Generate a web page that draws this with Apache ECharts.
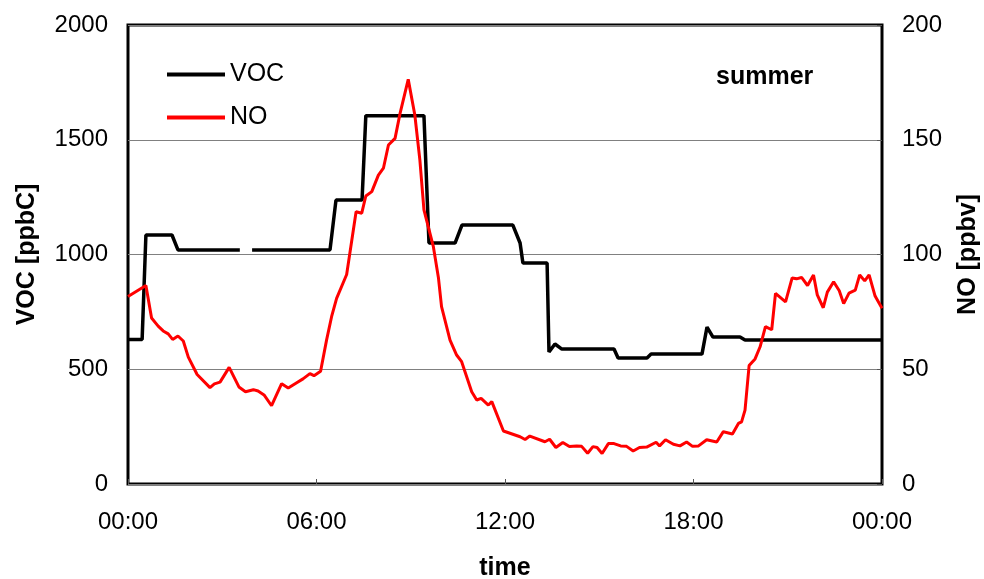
<!DOCTYPE html>
<html>
<head>
<meta charset="utf-8">
<script src="https://cdn.jsdelivr.net/npm/echarts@6/dist/echarts.min.js"></script>
<style>
html,body{margin:0;padding:0;background:#fff;overflow:hidden;width:100%;height:100%;}
#chart{width:984px;height:579px;}
</style>
</head>
<body>
<div id="chart"></div>
<script>
// x-axis tick labels (hours 0,6,12,18,24)
var timeLabels = ['00:00', '06:00', '12:00', '18:00', '00:00'];

// VOC [ppbC] (left axis) — hour of day, value (null = gap in record)
var vocHours = [0, 0.45, 0.57, 1.40, 1.59, 3.56, 3.75, 3.95, 6.43, 6.62, 7.45, 7.57, 9.42, 9.58, 10.41, 10.63, 12.25, 12.48, 12.57, 13.34, 13.40, 13.59, 13.81, 15.47, 15.60, 16.52, 16.65, 18.27, 18.43, 18.62, 19.48, 19.64, 24];
var vocValues = [630, 630, 1085, 1085, 1020, 1020, null, 1020, 1020, 1237, 1237, 1605, 1605, 1050, 1050, 1128, 1128, 1050, 963, 963, 575, 610, 588, 588, 549, 549, 566, 566, 684, 640, 640, 627, 627];

// NO [ppbv] (right axis)
var noHours = [0, 0.57, 0.75, 0.96, 1.12, 1.28, 1.42, 1.59, 1.76, 1.92,
  2.20, 2.61, 2.75, 2.93, 3.22, 3.53, 3.74, 3.99, 4.14, 4.33,
  4.57, 4.89, 5.10, 5.37, 5.57, 5.79, 5.92, 6.13, 6.32, 6.48,
  6.64, 6.96, 7.26, 7.44, 7.57, 7.76, 7.97, 8.13, 8.29, 8.50,
  8.66, 8.92, 9.13, 9.29, 9.42, 9.72, 9.88, 9.98, 10.25, 10.46,
  10.62, 10.94, 11.10, 11.24, 11.47, 11.58, 11.95, 12.48, 12.64, 12.79,
  13.27, 13.42, 13.62, 13.84, 14.05, 14.28, 14.44, 14.63, 14.80, 14.93,
  15.09, 15.29, 15.47, 15.68, 15.87, 16.08, 16.28, 16.51, 16.81, 16.92,
  17.11, 17.36, 17.57, 17.78, 17.97, 18.16, 18.42, 18.74, 18.95, 19.24,
  19.43, 19.53, 19.64, 19.77, 19.96, 20.12, 20.29, 20.49, 20.61, 20.93,
  21.14, 21.28, 21.44, 21.63, 21.82, 21.94, 22.13, 22.26, 22.46, 22.64,
  22.78, 22.95, 23.15, 23.29, 23.45, 23.59, 23.78, 24];
var noValues = [81.7, 86.5, 72.3, 68.8, 66.7, 65.4, 63.0, 64.5, 62.3, 55.3,
  47.7, 42.0, 43.6, 44.4, 50.8, 42.3, 40.2, 41.1, 40.5, 38.8,
  34.1, 43.7, 41.8, 44.1, 45.8, 48.1, 47.2, 49.1, 62.7, 72.9,
  80.9, 91.3, 118.6, 118.0, 125.5, 127.4, 134.6, 137.6, 147.7, 150.6,
  161.5, 176.3, 160.8, 141.2, 119.4, 103.4, 90.0, 77.3, 62.7, 56.2,
  53.3, 40.2, 36.6, 37.3, 34.4, 35.9, 23.1, 20.6, 19.4, 20.9,
  18.4, 19.5, 15.9, 18.1, 16.3, 16.6, 16.4, 13.4, 16.3, 15.9,
  13.3, 17.6, 17.6, 16.6, 16.4, 14.4, 15.9, 16.1, 18.2, 16.6,
  19.3, 17.3, 16.6, 18.3, 16.4, 16.6, 19.3, 18.3, 22.8, 21.8,
  26.4, 27.1, 32.2, 51.6, 54.5, 59.8, 68.6, 67.2, 83.1, 79.4,
  89.8, 89.4, 90.0, 86.5, 91.1, 82.4, 76.8, 83.6, 88.1, 84.2,
  78.6, 83.2, 84.5, 91.1, 88.5, 91.1, 81.9, 76.6];

function pairs(xs, ys) {
  return xs.map(function (x, i) { return [x, ys[i] === null ? '-' : ys[i]]; });
}

var FONT = '"Liberation Sans", Arial, sans-serif';
var chart = echarts.init(document.getElementById('chart'), null, {renderer: 'canvas', width: 984, height: 579});
chart.setOption({
  animation: false,
  backgroundColor: '#ffffff',
  textStyle: {fontFamily: FONT, color: '#000'},
  title: {
    text: 'summer', left: 716, top: 65, padding: 0,
    textStyle: {fontFamily: FONT, fontSize: 25, fontWeight: 'bold', color: '#000'}
  },
  legend: {
    orient: 'vertical', left: 167, top: 62, padding: 0,
    itemWidth: 58, itemHeight: 4, itemGap: 18,
    icon: 'rect',
    textStyle: {fontFamily: FONT, fontSize: 25, color: '#000'},
    data: ['VOC', 'NO']
  },
  grid: {
    left: 128, right: 102, top: 25, bottom: 95,
    outerBoundsMode: 'none', containLabel: false,
    show: true, borderColor: '#000', borderWidth: 3, backgroundColor: 'transparent'
  },
  xAxis: {
    type: 'value', min: 0, max: 24, interval: 6,
    name: 'time', nameLocation: 'middle', nameGap: 72,
    nameTextStyle: {fontFamily: FONT, fontSize: 25, fontWeight: 'bold', color: '#000'},
    axisLine: {show: false},
    axisTick: {show: true, inside: true, length: 5, lineStyle: {color: '#555', width: 1}},
    splitLine: {show: false},
    axisLabel: {
      fontFamily: FONT, fontSize: 24, color: '#000', margin: 26,
      formatter: function (v, i) { return timeLabels[i]; }
    }
  },
  yAxis: [{
    type: 'value', min: 0, max: 2000, interval: 500, position: 'left',
    name: 'VOC [ppbC]', nameLocation: 'middle', nameGap: 88, nameRotate: 90,
    nameTextStyle: {fontFamily: FONT, fontSize: 25, fontWeight: 'bold', color: '#000'},
    axisLine: {show: false},
    axisTick: {show: false},
    splitLine: {show: true, lineStyle: {color: '#808080', width: 1}},
    axisLabel: {fontFamily: FONT, fontSize: 24, color: '#000', margin: 20,
      formatter: function (v) { return String(v); }}
  }, {
    type: 'value', min: 0, max: 200, interval: 50, position: 'right',
    name: 'NO [ppbv]', nameLocation: 'middle', nameGap: 74, nameRotate: 90,
    nameTextStyle: {fontFamily: FONT, fontSize: 25, fontWeight: 'bold', color: '#000'},
    axisLine: {show: false},
    axisTick: {show: true, inside: true, length: 5, lineStyle: {color: '#555'}},
    splitLine: {show: false},
    axisLabel: {fontFamily: FONT, fontSize: 24, color: '#000', margin: 20,
      formatter: function (v) { return String(v); }}
  }],
  series: [{
    name: 'VOC', type: 'line', yAxisIndex: 0,
    data: pairs(vocHours, vocValues),
    showSymbol: false, symbol: 'none', connectNulls: false,
    lineStyle: {color: '#000', width: 3.5},
    itemStyle: {color: '#000'},
    z: 3
  }, {
    name: 'NO', type: 'line', yAxisIndex: 1,
    data: pairs(noHours, noValues),
    showSymbol: false, symbol: 'none',
    lineStyle: {color: '#ff0000', width: 3},
    itemStyle: {color: '#ff0000'},
    z: 4
  }]
});
</script>
</body>
</html>
